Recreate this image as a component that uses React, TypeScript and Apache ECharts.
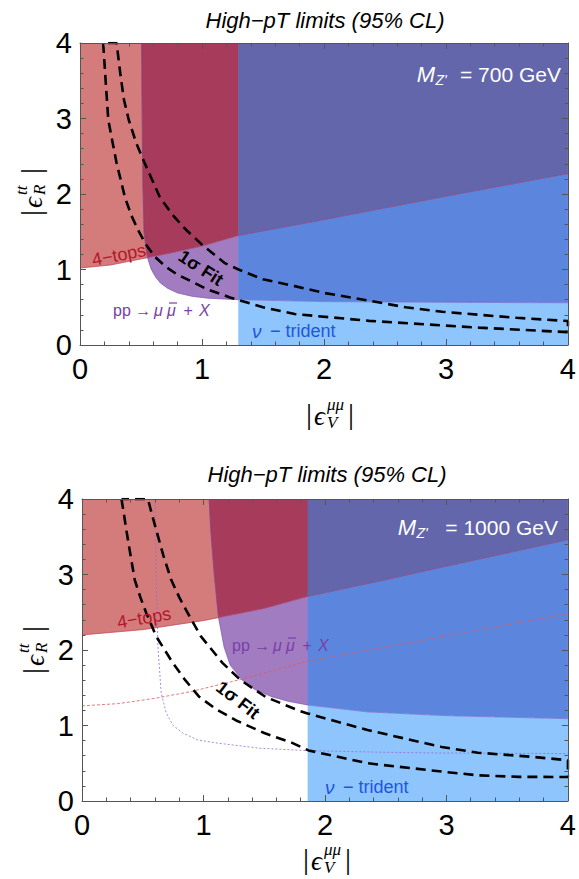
import React, { useEffect, useRef } from "react";
import * as echarts from "echarts";

// ---------------- data ----------------
const axisMin = 0;
const axisMax = 4;
const panelTitle = "High−pT limits (95% CL)";

// Panel A : M_Z' = 700 GeV
const massA = "700";
const fourTopsA_x = [0, 0.25, 0.5, 0.75, 1.0, 1.3, 2, 3, 4];
const fourTopsA_y = [1.02, 1.06, 1.14, 1.22, 1.31, 1.45, 1.66, 1.97, 2.27];
const dimuonA_x = [0.505, 0.51, 0.515, 0.525, 0.54, 0.555, 0.585, 0.62, 0.66, 0.72, 0.8, 0.92, 1.05, 1.3, 2, 3, 4];
const dimuonA_y = [4, 3.0, 2.2, 1.5, 1.3, 1.15, 1.0, 0.9, 0.82, 0.75, 0.69, 0.645, 0.62, 0.6, 0.575, 0.565, 0.56];
const tridentA = 1.3;
const fitInnerA_x = [0.19, 0.21, 0.232, 0.265, 0.3, 0.368, 0.42, 0.477, 0.54, 0.613, 0.7, 0.8, 0.93, 1.04, 1.23, 1.5, 1.76, 2.37, 3.27, 4];
const fitInnerA_y = [4, 3.5, 2.98, 2.7, 2.41, 1.96, 1.72, 1.52, 1.33, 1.17, 1.04, 0.93, 0.83, 0.74, 0.63, 0.5, 0.41, 0.32, 0.23, 0.17];
const fitOuterA_x = [0.3, 0.33, 0.36, 0.4, 0.46, 0.53, 0.654, 0.76, 0.873, 1.0, 1.186, 1.3, 1.5, 1.76, 2.0, 2.22, 2.67, 2.97, 3.58, 4];
const fitOuterA_y = [4, 3.6, 3.25, 2.98, 2.68, 2.41, 1.96, 1.72, 1.52, 1.33, 1.085, 1.0, 0.87, 0.78, 0.69, 0.63, 0.5, 0.44, 0.36, 0.317];

// Panel B : M_Z' = 1000 GeV
const massB = "1000";
const fourTopsB_x = [0, 0.5, 1.0, 1.5, 1.86, 2.5, 3, 4];
const fourTopsB_y = [2.2, 2.27, 2.39, 2.55, 2.71, 2.93, 3.11, 3.46];
const dimuonB_x = [1.047, 1.06, 1.088, 1.123, 1.17, 1.22, 1.32, 1.42, 1.565, 1.7, 1.865, 2.35, 3, 4];
const dimuonB_y = [4, 3.59, 3.02, 2.44, 2.04, 1.8, 1.6, 1.48, 1.38, 1.32, 1.27, 1.18, 1.13, 1.09];
const tridentB = 1.86;
const fourTopsRefB_x = [0, 0.3, 0.6, 0.9, 1.33, 1.857, 2.5, 3, 4];
const fourTopsRefB_y = [1.26, 1.29, 1.36, 1.45, 1.62, 1.85, 2.04, 2.19, 2.48];
const dimuonRefB_x = [0.603, 0.61, 0.625, 0.652, 0.693, 0.75, 0.83, 0.95, 1.1, 1.456, 1.865, 2.5, 3, 4];
const dimuonRefB_y = [4, 3.0, 2.04, 1.43, 1.165, 1.0, 0.9, 0.81, 0.77, 0.7, 0.666, 0.645, 0.635, 0.628];
const fitInnerB_x = [0.325, 0.345, 0.365, 0.4, 0.434, 0.48, 0.529, 0.611, 0.747, 0.85, 0.965, 1.1, 1.265, 1.5, 1.73, 1.865, 2.35, 2.96, 3.26, 3.6, 4];
const fitInnerB_y = [4, 3.8, 3.59, 3.25, 2.93, 2.7, 2.49, 2.18, 1.83, 1.6, 1.38, 1.22, 1.07, 0.9, 0.77, 0.67, 0.5, 0.39, 0.34, 0.32, 0.318];
const fitOuterB_x = [0.543, 0.575, 0.611, 0.67, 0.734, 0.8, 0.87, 0.979, 1.156, 1.306, 1.51, 1.78, 1.857, 2.35, 2.96, 3.26, 3.71, 4];
const fitOuterB_y = [4, 3.8, 3.59, 3.25, 2.93, 2.7, 2.49, 2.18, 1.83, 1.6, 1.38, 1.2, 1.16, 0.94, 0.716, 0.64, 0.584, 0.54];

// ---------------- styles ----------------
const C = {
  lightRed: "#d47b7b",
  crimson: "#a63b5b",
  purple: "#a27cc0",
  slate: "#6366aa",
  medBlue: "#5c86dd",
  lightBlue: "#8dc5fc",
  frame: "#555555",
};
const SANS = "'Liberation Sans', Arial, sans-serif";
const SERIF = "'Liberation Serif', 'DejaVu Serif', serif";

// ---------------- helpers ----------------
function interp(xs: number[], ys: number[], x: number): number {
  if (x <= xs[0]) return ys[0];
  const n = xs.length;
  if (x >= xs[n - 1]) return ys[n - 1];
  for (let i = 1; i < n; i++) {
    if (x <= xs[i]) {
      const t = (x - xs[i - 1]) / (xs[i] - xs[i - 1]);
      return ys[i - 1] + t * (ys[i] - ys[i - 1]);
    }
  }
  return ys[n - 1];
}
const clamp = (v: number) => Math.min(axisMax, Math.max(axisMin, v));

function band(a: number, b: number, lo: (x: number) => number, hi: (x: number) => number, knots: number[]) {
  const xs: number[] = [];
  const n = Math.max(1, Math.ceil((b - a) / 0.004));
  for (let i = 0; i <= n; i++) xs.push(a + ((b - a) * i) / n);
  knots.forEach((k) => { if (k > a && k < b) xs.push(k); });
  xs.sort((u, v) => u - v);
  const rows = xs.map((x) => {
    const l = clamp(lo(x));
    const h = clamp(Math.max(hi(x), l));
    return [x, l, h];
  });
  const ok = (r?: number[]) => !!r && r[2] - r[1] > 1e-6;
  const keep = rows.filter((r, i) => ok(r) || ok(rows[i - 1]) || ok(rows[i + 1]));
  const top = keep.map((r) => [r[0], r[2]]);
  const bot = keep.slice().reverse().map((r) => [r[0], r[1]]);
  return top.concat(bot);
}

function buildRegions(rX: number[], rY: number[], pX: number[], pY: number[], cut: number) {
  const x0 = pX[0];
  const r = (x: number) => interp(rX, rY, x);
  const p = (x: number) => (x < x0 ? axisMax : interp(pX, pY, x));
  const knots = [...rX, ...pX, cut];
  return [
    { color: C.lightRed, pts: band(axisMin, cut, r, p, knots) },
    { color: C.crimson, pts: band(x0, cut, (x) => Math.max(r(x), p(x)), () => axisMax, knots) },
    { color: C.purple, pts: band(x0, cut, p, r, knots) },
    { color: C.slate, pts: band(cut, axisMax, r, () => axisMax, knots) },
    { color: C.medBlue, pts: band(cut, axisMax, p, r, knots) },
    { color: C.lightBlue, pts: band(cut, axisMax, () => axisMin, p, knots) },
  ];
}

const zip = (xs: number[], ys: number[]) => xs.map((x, i) => [x, ys[i]]);

function contour(ax: number[], ay: number[], bx: number[], by: number[]) {
  const a = zip(ax, ay);
  const b = zip(bx, by).reverse();
  return [...a, ...b, a[0]];
}

function regionSeries(regions: { color: string; pts: number[][] }[], axisIndex: number) {
  return {
    type: "custom",
    xAxisIndex: axisIndex,
    yAxisIndex: axisIndex,
    silent: true,
    clip: true,
    z: 1,
    data: regions.map(() => [0, 0]),
    renderItem: (params: any, api: any) => {
      const reg = regions[params.dataIndex];
      return {
        type: "polygon",
        shape: { points: reg.pts.map((pt) => api.coord(pt)) },
        style: { fill: reg.color, stroke: reg.color, lineWidth: 0.6 },
      };
    },
  };
}

function lineSeries(data: number[][], axisIndex: number, color: string, width: number, type: any, z = 3) {
  return {
    type: "line",
    xAxisIndex: axisIndex,
    yAxisIndex: axisIndex,
    data,
    showSymbol: false,
    symbol: "none",
    silent: true,
    clip: true,
    z,
    lineStyle: { color, width, type },
  };
}

function xAxisDef(gridIndex: number, position: string, labels: boolean) {
  return {
    type: "value",
    gridIndex,
    position,
    min: axisMin,
    max: axisMax,
    interval: 1,
    z: 10,
    axisLine: { show: true, onZero: false, lineStyle: { color: C.frame, width: 1 } },
    axisTick: { show: true, inside: true, length: 6, lineStyle: { color: C.frame, width: 1 } },
    minorTick: { show: true, splitNumber: 5, length: 3.5, lineStyle: { color: C.frame, width: 1 } },
    splitLine: { show: false },
    minorSplitLine: { show: false },
    axisLabel: { show: labels, fontSize: 29, color: "#000", fontFamily: SANS, margin: 9 },
  };
}
function yAxisDef(gridIndex: number, position: string, labels: boolean) {
  const d: any = xAxisDef(gridIndex, position, labels);
  d.axisLabel = { show: labels, fontSize: 29, color: "#000", fontFamily: SANS, margin: 8 };
  return d;
}

function text(x: number, y: number, str: string, size: number, fill: string, extra: any = {}) {
  return {
    type: "text",
    x,
    y,
    rotation: extra.rotation || 0,
    silent: true,
    z: 20,
    style: {
      text: str,
      fontSize: size,
      fontFamily: extra.fontFamily || SANS,
      fontStyle: extra.fontStyle || "normal",
      fontWeight: extra.fontWeight || "normal",
      fill,
      align: extra.align || "center",
      verticalAlign: "middle",
    },
  };
}

function mathTitle(cx: number, cy: number, rotation: number, sup: string, sub: string) {
  const t = (x: number, y: number, s: string, size: number, italic: boolean, align = "left") => ({
    type: "text",
    x,
    y,
    silent: true,
    style: {
      text: s,
      fontSize: size,
      fontFamily: SERIF,
      fontStyle: italic ? "italic" : "normal",
      fill: "#000",
      align,
      verticalAlign: "middle",
    },
  });
  return {
    type: "group",
    x: cx,
    y: cy,
    rotation,
    silent: true,
    z: 20,
    children: [
      t(-21, 1, "|", 30, false, "center"),
      t(-16, 4, "ϵ", 27, true),
      t(-3, -8, sup, 17, true),
      t(-3, 10, sub, 17, true),
      t(21, 1, "|", 30, false, "center"),
    ],
  };
}

function massLabel(right: number, y: number, mass: string, mRight: number) {
  return [
    text(right, y, "= " + mass + " GeV", 21, "#fff", { align: "right" }),
    text(mRight + 0.5, y + 6, "Z'", 14, "#fff", { align: "left", fontStyle: "italic" }),
    text(mRight, y, "M", 22, "#fff", { align: "right", fontStyle: "italic" }),
  ];
}

// pp -> mu mubar + X label, built left to right from a start point
function ppLabel(x: number, y: number) {
  const col = "#7a3ea8";
  return [
    text(x, y, "pp → ", 16, col, { align: "left" }),
    text(x + 41, y, "μ", 16, col, { align: "left", fontStyle: "italic" }),
    text(x + 54, y, "μ", 16, col, { align: "left", fontStyle: "italic" }),
    {
      type: "line",
      silent: true,
      z: 20,
      shape: { x1: x + 56, y1: y - 7, x2: x + 64, y2: y - 7 },
      style: { stroke: col, lineWidth: 1.2 },
    },
    text(x + 66, y, " + ", 16, col, { align: "left" }),
    text(x + 86, y, "X", 16, col, { align: "left", fontStyle: "italic" }),
  ];
}

function tridentLabel(x: number, y: number) {
  const col = "#1f55e0";
  return [
    text(x, y, "ν", 19, col, { align: "left", fontStyle: "italic" }),
    text(x + 13, y, " − trident", 18, col, { align: "left" }),
  ];
}

function buildOption() {
  const regionsA = buildRegions(fourTopsA_x, fourTopsA_y, dimuonA_x, dimuonA_y, tridentA);
  const regionsB = buildRegions(fourTopsB_x, fourTopsB_y, dimuonB_x, dimuonB_y, tridentB);

  const gridA = { left: 80, top: 43, width: 489, height: 302 };
  const gridB = { left: 82, top: 499, width: 489, height: 302 };
  const edgeRed = "rgba(170,30,60,0.55)";
  const edgePurple = "rgba(110,60,170,0.55)";

  return {
    animation: false,
    backgroundColor: "#fff",
    grid: [gridA, gridB],
    xAxis: [
      xAxisDef(0, "bottom", true),
      xAxisDef(1, "bottom", true),
      xAxisDef(0, "top", false),
      xAxisDef(1, "top", false),
    ],
    yAxis: [
      yAxisDef(0, "left", true),
      yAxisDef(1, "left", true),
      yAxisDef(0, "right", false),
      yAxisDef(1, "right", false),
    ],
    series: [
      regionSeries(regionsA, 0),
      lineSeries(zip(fourTopsA_x, fourTopsA_y), 0, edgeRed, 0.8, "solid"),
      lineSeries(zip(dimuonA_x, dimuonA_y), 0, edgePurple, 0.8, "solid"),
      lineSeries(contour(fitInnerA_x, fitInnerA_y, fitOuterA_x, fitOuterA_y), 0, "#000", 2.6, [10, 6], 5),

      regionSeries(regionsB, 1),
      lineSeries(zip(fourTopsB_x, fourTopsB_y), 1, edgeRed, 0.8, "solid"),
      lineSeries(zip(dimuonB_x, dimuonB_y), 1, edgePurple, 0.8, "solid"),
      lineSeries(zip(fourTopsRefB_x, fourTopsRefB_y), 1, "#e0585a", 0.8, [3, 2], 4),
      lineSeries(zip(dimuonRefB_x, dimuonRefB_y), 1, "#9b6ad2", 0.8, [2, 2], 4),
      lineSeries(contour(fitInnerB_x, fitInnerB_y, fitOuterB_x, fitOuterB_y), 1, "#000", 2.6, [10, 6], 5),
    ],
    graphic: [
      // panel A
      text(325, 20, panelTitle, 22, "#000", { fontStyle: "italic" }),
      ...massLabel(561, 74, massA, 435),
      text(119, 255, "4−tops", 18, "#b3182a", { rotation: 0.19 }),
      ...ppLabel(113, 310),
      ...tridentLabel(252, 331),
      text(201, 268, "1σ Fit", 18, "#000", { rotation: -0.58, fontWeight: "bold" }),
      mathTitle(330, 412, 0, "μμ", "V"),
      mathTitle(29, 192, Math.PI / 2, "tt", "R"),
      // panel B
      text(327, 474, panelTitle, 22, "#000", { fontStyle: "italic" }),
      ...massLabel(558, 527, massB, 416),
      text(144, 618, "4−tops", 18, "#b3182a", { rotation: 0.17 }),
      ...ppLabel(232, 645),
      ...tridentLabel(325, 787),
      text(238, 700, "1σ Fit", 18, "#000", { rotation: -0.66, fontWeight: "bold" }),
      mathTitle(327, 857, 0, "μμ", "V"),
      mathTitle(31, 650, Math.PI / 2, "tt", "R"),
    ],
  };
}

export default function App() {
  const ref = useRef<HTMLDivElement>(null);
  useEffect(() => {
    if (!ref.current) return;
    const chart = echarts.init(ref.current, null, { renderer: "svg" });
    chart.setOption(buildOption() as any);
    return () => chart.dispose();
  }, []);
  return (
    <div
      ref={ref}
      style={{ position: "absolute", left: 0, top: 0, width: 579, height: 879, background: "#fff" }}
    />
  );
}
